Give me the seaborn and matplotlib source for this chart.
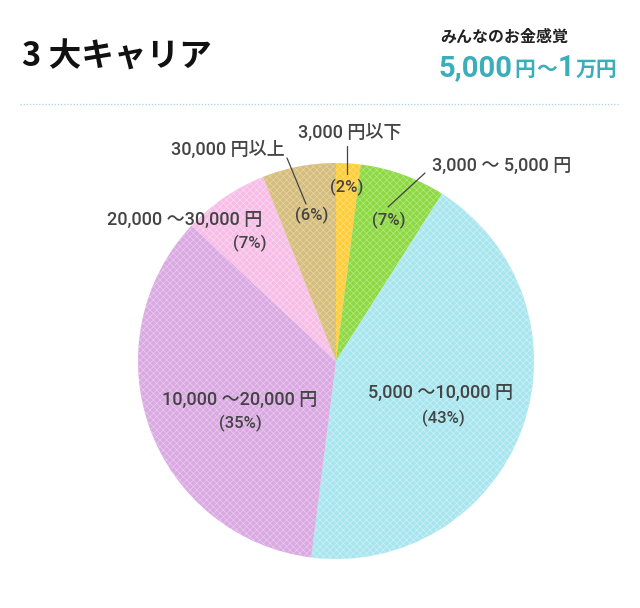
import matplotlib
matplotlib.use("Agg")
import matplotlib.pyplot as plt
import seaborn as sns

# data (clockwise from 12 o'clock)
labels = ["3,000 円以下", "3,000 ～ 5,000 円", "5,000 ～10,000 円",
          "10,000 ～20,000 円", "20,000 ～30,000 円", "30,000 円以上"]
shares = [2, 7, 43, 35, 7, 6]
colors = ["#ffcc3a", "#8ed846", "#a9e5ee", "#d9a9e1", "#f7bde6", "#d5bd7e"]
texture = ["#ffe07a", "#b2ea7c", "#c9f1f6", "#ebc8f0", "#fbd8f1", "#e6d4a4"]

title = "3 大キャリア"
sub_head = "みんなのお金感覚"
sub_parts = [("5,000", 21), ("円", 15), ("～", 15), ("1", 21), ("万円", 15)]

sns.set_theme(style="white")
plt.rcParams["font.family"] = ["Roboto", "Noto Sans CJK JP", "DejaVu Sans"]
plt.rcParams["hatch.linewidth"] = 0.5

W, H = 640, 608
fig = plt.figure(figsize=(W / 100, H / 100), dpi=100)


def px(x, y):
    return x / W, 1 - y / H


# pie placed in pixel space
cx, cy, r = 336, 361, 198
ax = fig.add_axes([(cx - r) / W, (H - cy - r) / H, 2 * r / W, 2 * r / H])
wedges, _ = ax.pie(shares, colors=colors, startangle=90, counterclock=False,
                   wedgeprops=dict(linewidth=0))
for w, tc in zip(wedges, texture):
    w.set_hatch("xxxxx")
    w.set_edgecolor(tc)
    w.set_linewidth(0)
ax.set_xlim(-1, 1)
ax.set_ylim(-1, 1)
ax.set_aspect("equal")
ax.axis("off")

# header
fig.text(*px(22, 57), title, fontsize=23.5, fontweight="bold", color="#111111",
         ha="left", va="center", family=["Noto Sans CJK JP"])
fig.text(*px(440, 37), sub_head, fontsize=11.5, fontweight="bold", color="#222222",
         ha="left", va="center", family=["Noto Sans CJK JP"])
renderer = fig.canvas.get_renderer()
x = 439
for part, size in sub_parts:
    t = fig.text(*px(x, 76), part, fontsize=size, fontweight="bold", color="#3aaeb9",
                 ha="left", va="baseline")
    x += t.get_window_extent(renderer).width + 1

line_ax = fig.add_axes([0, 0, 1, 1], facecolor="none")
line_ax.set_xlim(0, W)
line_ax.set_ylim(H, 0)
line_ax.axis("off")
line_ax.plot([20, 620], [104, 104], color="#9fd6e0", linestyle=(0, (1, 1.5)), linewidth=0.9)

# slice labels (name position, percent position)
name_pos = [(350, 133), (502, 166), (441, 393), (240, 400), (185, 220), (228, 150)]
pct_pos = [(347, 187), (389, 220), (443, 418), (240, 423), (250, 243), (312, 215)]
leaders = [((347, 146), (347, 174)), ((425, 173), (388, 207)), None, None, None,
           ((287, 158), (306, 204))]

txt = "#444444"
for name, share, npos, ppos, ld in zip(labels, shares, name_pos, pct_pos, leaders):
    fig.text(*px(*npos), name, fontsize=13, fontweight="medium", color=txt,
             ha="center", va="center")
    fig.text(*px(*ppos), f"({share}%)", fontsize=12, fontweight="medium", color=txt,
             ha="center", va="center")
    if ld:
        line_ax.plot([ld[0][0], ld[1][0]], [ld[0][1], ld[1][1]], color="#444444", linewidth=0.9)

fig.savefig("out.png", dpi=100)
